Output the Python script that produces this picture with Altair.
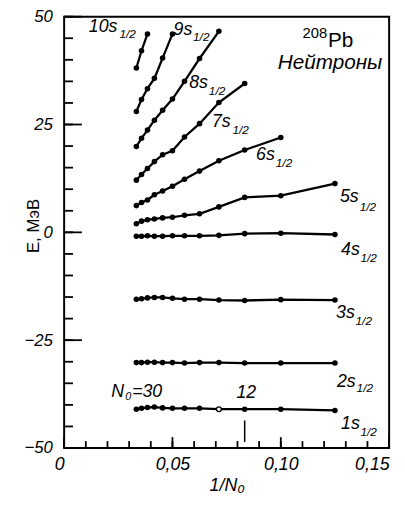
import altair as alt
import pandas as pd

# ---------------- data ----------------
N0 = [30, 28, 26, 24, 22, 20, 18, 16, 14, 12, 10, 8]
E_1s = [-41.0, -40.8, -40.6, -40.5, -40.7, -40.8, -40.8, -40.8, -41.0, -41.0, -41.0, -41.3]
E_2s = [-30.2, -30.2, -30.1, -30.1, -30.2, -30.2, -30.3, -30.2, -30.2, -30.3, -30.3, -30.3]
E_3s = [-15.5, -15.4, -15.2, -15.1, -15.1, -15.3, -15.5, -15.5, -15.7, -15.8, -15.6, -15.7]
E_4s = [-0.9, -0.9, -0.8, -0.9, -0.9, -0.8, -0.8, -0.8, -0.7, -0.3, -0.2, -0.5]
E_5s = [2.0, 2.6, 2.9, 3.1, 3.35, 3.5, 3.95, 4.3, 5.9, 8.1, 8.5, 11.3]
E_6s = [6.2, 6.9, 7.5, 8.7, 9.6, 10.7, 12.3, 14.2, 16.6, 19.1, 22.0]
E_7s = [12.1, 13.4, 14.8, 16.4, 18.0, 18.9, 22.1, 25.2, 30.1, 34.5]
E_8s = [19.9, 21.8, 23.7, 26.0, 28.3, 30.9, 35.0, 40.3, 46.6]
E_9s = [28.0, 30.8, 33.3, 35.7, 40.4, 46.0]
E_10s = [38.1, 42.1, 46.0]
states = ["1s", "2s", "3s", "4s", "5s", "6s", "7s", "8s", "9s", "10s"]
series = [E_1s, E_2s, E_3s, E_4s, E_5s, E_6s, E_7s, E_8s, E_9s, E_10s]
open_points = [("1s", 14)]

# state labels (main text + subscript)
lab_main = ["10s", "9s", "8s", "7s", "6s", "5s", "4s", "3s", "2s", "1s"]
lab_main_x = [0.0114, 0.0505, 0.0577, 0.0682, 0.0886, 0.1273, 0.1278, 0.1255, 0.1259, 0.1278]
lab_main_y = [47.5, 47.0, 34.6, 25.5, 17.8, 8.2, -4.1, -18.7, -34.7, -44.5]
lab_sub = ["1/2"] * 10
lab_sub_x = [0.0255, 0.0595, 0.0668, 0.0777, 0.0977, 0.1364, 0.1368, 0.1345, 0.1350, 0.1368]
lab_sub_y = [46.0, 45.3, 32.8, 23.7, 16.0, 5.9, -5.9, -20.5, -36.1, -46.3]

# other annotations
note_text = ["N", "0", "=30", "12", "Нейтроны"]
note_x = [0.0218, 0.0282, 0.0314, 0.0795, 0.0986]
note_y = [-37.0, -38.1, -37.0, -37.2, 39.3]
note_size = [18, 11, 18, 18, 21]
iso_text = ["208", "Pb"]
iso_x = [0.1100, 0.1218]
iso_y = [46.3, 44.3]
iso_size = [15, 21]
mark12_x = [1 / 12]
mark12_y = [-43.6]
mark12_y2 = [-48.6]

x_major_vals = [0, 0.05, 0.10, 0.15]
x_minor_vals = [i / 100 for i in range(16)]
y_major_vals = [-50, -25, 0, 25, 50]
y_minor_vals = list(range(-50, 51, 5))

# ---------------- tables ----------------
rows = []
for st, vals in zip(states, series):
    for n, e in zip(N0, vals):
        rows.append({"state": st, "N0": n, "x": 1 / n, "E": e,
                     "open": (st, n) in open_points})
df = pd.DataFrame(rows)

main_df = pd.DataFrame({"t": lab_main, "x": lab_main_x, "y": lab_main_y})
sub_df = pd.DataFrame({"t": lab_sub, "x": lab_sub_x, "y": lab_sub_y})
note_df = pd.DataFrame({"t": note_text, "x": note_x, "y": note_y, "fs": note_size})
iso_df = pd.DataFrame({"t": iso_text, "x": iso_x, "y": iso_y, "fs": iso_size})
m12_df = pd.DataFrame({"x": mark12_x, "y": mark12_y, "y2": mark12_y2})
yt_major = pd.DataFrame({"v": y_major_vals})
yt_minor = pd.DataFrame({"v": y_minor_vals})
xt_major = pd.DataFrame({"v": x_major_vals})
xt_minor = pd.DataFrame({"v": x_minor_vals})

W, H = 330, 438
FONT = "Liberation Sans"
xs = alt.Scale(domain=[0, 0.15], nice=False, zero=False)
ys = alt.Scale(domain=[-50, 50], nice=False, zero=False)

x_axis = alt.Axis(
    orient="bottom", values=x_major_vals, ticks=False, domain=False, grid=False,
    labelExpr="datum.value == 0 ? '0' : replace(format(datum.value, '.2f'), '.', ',')",
    labelAlign={"condition": {"test": "datum.value == 0 || datum.value > 0.14", "value": "right"},
                "value": "center"},
    labelFont=FONT, labelFontSize=18, labelFontStyle="italic", labelColor="black",
    labelPadding=8, labelFlush=False,
    title="1/N₀", titleFont=FONT, titleFontSize=18, titleFontStyle="italic",
    titleFontWeight="normal", titleColor="black", titlePadding=3)
y_axis = alt.Axis(
    orient="left", values=y_major_vals, ticks=False, domain=False, grid=False,
    labelFont=FONT, labelFontSize=17, labelFontStyle="italic", labelColor="black",
    labelPadding=12,
    title="E, МэВ", titleFont=FONT, titleFontSize=17, titleFontStyle="normal",
    titleFontWeight="normal", titleColor="black", titleX=-22, titleY=212)

base = alt.Chart(df)
lines = base.mark_line(color="black", strokeWidth=2.3).encode(
    x=alt.X("x:Q", scale=xs, axis=x_axis),
    y=alt.Y("E:Q", scale=ys, axis=y_axis),
    detail="state:N",
    order="x:Q",
)
points = base.transform_filter("!datum.open").mark_circle(
    color="black", size=32, opacity=1).encode(
    x=alt.X("x:Q", scale=xs, axis=None),
    y=alt.Y("E:Q", scale=ys, axis=None),
)
open_pts = base.transform_filter("datum.open").mark_point(
    shape="circle", fill="white", stroke="black", strokeWidth=1.3, size=24, opacity=1).encode(
    x=alt.X("x:Q", scale=xs, axis=None),
    y=alt.Y("E:Q", scale=ys, axis=None),
)


def ytick(data, length):
    return alt.Chart(data).mark_rule(color="black", strokeWidth=1.8).encode(
        y=alt.Y("v:Q", scale=ys, axis=None),
        x=alt.value(0), x2=alt.value(length))


def xtick(data, length):
    return alt.Chart(data).mark_rule(color="black", strokeWidth=1.8).encode(
        x=alt.X("v:Q", scale=xs, axis=None),
        y=alt.value(H), y2=alt.value(H - length))


def text_layer(data, size, style, sized=False):
    enc = dict(
        x=alt.X("x:Q", scale=xs, axis=None),
        y=alt.Y("y:Q", scale=ys, axis=None),
        text="t:N",
    )
    if sized:
        enc["size"] = alt.Size("fs:Q", scale=None, legend=None)
    return alt.Chart(data).mark_text(
        font=FONT, fontSize=size, fontStyle=style, align="left",
        baseline="middle", color="black").encode(**enc)


t_main = text_layer(main_df, 18, "italic")
t_sub = text_layer(sub_df, 12, "italic")
t_note = text_layer(note_df, 18, "italic", sized=True)
t_iso = text_layer(iso_df, 18, "normal", sized=True)
rule12 = alt.Chart(m12_df).mark_rule(color="black", strokeWidth=1.5).encode(
    x=alt.X("x:Q", scale=xs, axis=None),
    y=alt.Y("y:Q", scale=ys, axis=None),
    y2="y2:Q",
)

chart = alt.layer(
    lines, points, open_pts,
    ytick(yt_minor, 9), ytick(yt_major, 18), xtick(xt_minor, 7), xtick(xt_major, 11),
    t_main, t_sub, t_note, t_iso, rule12,
).resolve_axis(
    x="independent", y="independent"
).properties(
    width=W, height=H,
    padding={"left": 57, "top": 5, "right": 8, "bottom": 50},
    autosize=alt.AutoSizeParams(type="none"),
    background="white",
).configure_view(stroke="black", strokeWidth=2)

chart.save("out.html", embed_options={"renderer": "svg", "actions": False})
